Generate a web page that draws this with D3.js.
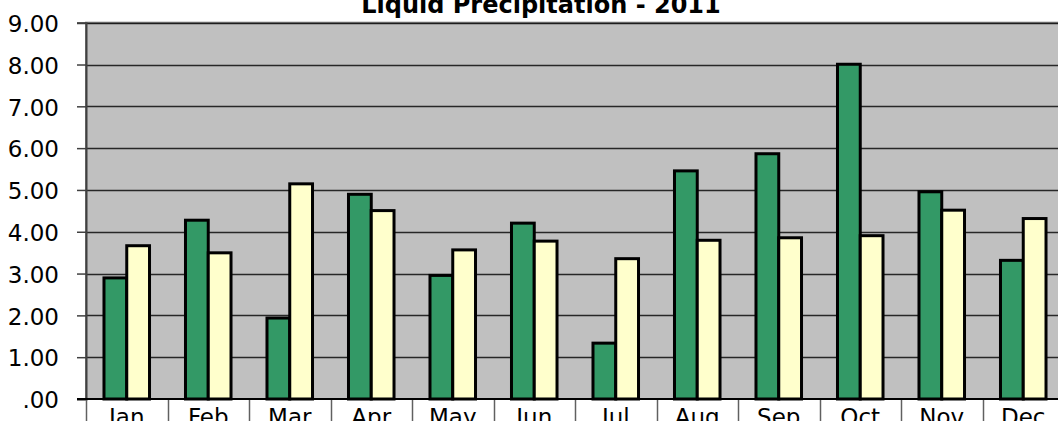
<!DOCTYPE html>
<html>
<head>
<meta charset="UTF-8" />
<title>Liquid Precipitation - 2011</title>
<script src="https://d3js.org/d3.v7.min.js"></script>
<style>
  body { margin: 0; background: #fff; }
  text { font-family: "DejaVu Sans", Verdana, sans-serif; fill: #000; }
</style>
</head>
<body>
<script>
var months = ["Jan", "Feb", "Mar", "Apr", "May", "Jun", "Jul", "Aug", "Sep", "Oct", "Nov", "Dec"];
var seriesA = [2.92, 4.30, 1.96, 4.92, 2.98, 4.23, 1.36, 5.48, 5.89, 8.03, 4.98, 3.34];
var seriesB = [3.69, 3.52, 5.17, 4.53, 3.59, 3.80, 3.38, 3.82, 3.88, 3.93, 4.54, 4.34];
var yTicks = [0, 1, 2, 3, 4, 5, 6, 7, 8, 9];
var title = "Liquid Precipitation - 2011";

var width = 1058, height = 421;
var plotLeft = 86, plotTop = 22.7, plotBottom = 399, step = 81.5;

var svg = d3.select("body").append("svg").attr("width", width).attr("height", height);

var x0 = d3.scaleBand().domain(months).range([plotLeft, plotLeft + step * months.length]);
var x1 = d3.scaleBand().domain(["a", "b"]).range([0, x0.bandwidth()]).paddingOuter(0.79);
var y = d3.scaleLinear().domain([0, 9]).range([plotBottom, plotTop]);

// plot area
svg.append("rect")
  .attr("x", plotLeft).attr("y", plotTop)
  .attr("width", x0.range()[1] - plotLeft).attr("height", plotBottom - plotTop)
  .attr("fill", "#c0c0c0").attr("stroke", "#808080").attr("stroke-width", 2);

// gridlines
svg.selectAll(".grid").data(yTicks.slice(1)).enter().append("line")
  .attr("x1", plotLeft).attr("x2", width)
  .attr("y1", function(d) { return Math.round(y(d)) + 0.5; })
  .attr("y2", function(d) { return Math.round(y(d)) + 0.5; })
  .attr("stroke", "#000").attr("stroke-opacity", 0.8).attr("stroke-width", 1.5);

// y axis
var yAxis = svg.append("g").attr("transform", "translate(" + plotLeft + ",0)")
  .call(d3.axisLeft(y).tickValues(yTicks).tickSize(9).tickPadding(18)
    .tickFormat(function(d) { return d === 0 ? ".00" : d3.format(".2f")(d); }));
yAxis.select(".domain").attr("stroke", "#404040").attr("stroke-width", 2);
yAxis.selectAll(".tick line").attr("stroke", "#404040").attr("stroke-width", 1.5);
yAxis.selectAll(".tick text")
  .style("font-family", "'DejaVu Sans', Verdana, sans-serif")
  .style("font-size", "23px").attr("dy", "0.38em");

// x axis
var xAxis = svg.append("g").attr("transform", "translate(0," + plotBottom + ")")
  .call(d3.axisBottom(x0).tickSize(0).tickPadding(10));
xAxis.select(".domain").remove();
xAxis.selectAll(".tick text")
  .style("font-family", "'DejaVu Sans', Verdana, sans-serif")
  .style("font-size", "23px");

// category separators
svg.selectAll(".sep").data(months).enter().append("line")
  .attr("x1", function(d) { return Math.round(x0(d)) + 0.5; })
  .attr("x2", function(d) { return Math.round(x0(d)) + 0.5; })
  .attr("y1", plotBottom).attr("y2", height)
  .attr("stroke", "#606060").attr("stroke-width", 1.5);

// bars
var groups = svg.selectAll(".month").data(months).enter().append("g")
  .attr("transform", function(d) { return "translate(" + x0(d) + ",0)"; });

groups.append("rect")
  .attr("x", x1("a")).attr("width", x1.bandwidth())
  .attr("y", function(d, i) { return y(seriesA[i]) + 1; })
  .attr("height", function(d, i) { return plotBottom - y(seriesA[i]) - 1; })
  .attr("fill", "#339966").attr("stroke", "#000").attr("stroke-width", 3);

groups.append("rect")
  .attr("x", x1("b")).attr("width", x1.bandwidth())
  .attr("y", function(d, i) { return y(seriesB[i]) + 1; })
  .attr("height", function(d, i) { return plotBottom - y(seriesB[i]) - 1; })
  .attr("fill", "#ffffcc").attr("stroke", "#000").attr("stroke-width", 3);

// zero axis
svg.append("line")
  .attr("x1", plotLeft - 9).attr("x2", width)
  .attr("y1", plotBottom).attr("y2", plotBottom)
  .attr("stroke", "#000").attr("stroke-width", 2);

// title
svg.append("text")
  .attr("x", 541).attr("y", 13)
  .attr("text-anchor", "middle")
  .style("font-size", "24px").style("font-weight", "bold")
  .text(title);
</script>
</body>
</html>
